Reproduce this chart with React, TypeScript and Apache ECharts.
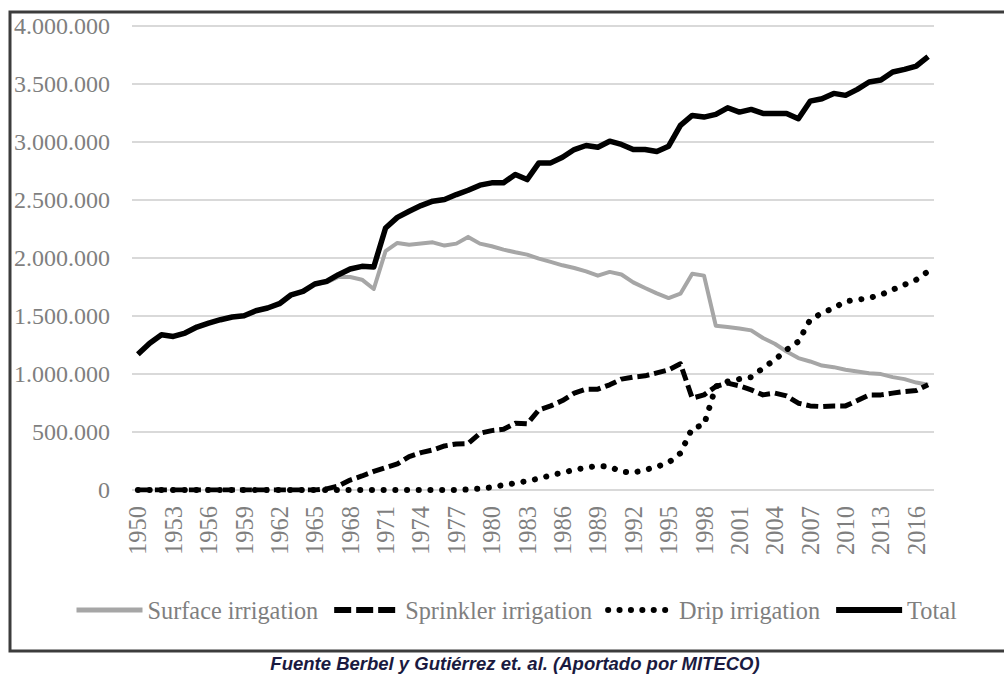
import React, { useEffect, useRef } from "react";
import * as echarts from "echarts";

const years = [
  "1950","1951","1952","1953","1954","1955","1956","1957","1958","1959",
  "1960","1961","1962","1963","1964","1965","1966","1967","1968","1969",
  "1970","1971","1972","1973","1974","1975","1976","1977","1978","1979",
  "1980","1981","1982","1983","1984","1985","1986","1987","1988","1989",
  "1990","1991","1992","1993","1994","1995","1996","1997","1998","1999",
  "2000","2001","2002","2003","2004","2005","2006","2007","2008","2009",
  "2010","2011","2012","2013","2014","2015","2016","2017",
];

const surface = [
  1170000, 1266000, 1338000, 1324000, 1353000, 1405000, 1439000, 1468000, 1491000, 1502000,
  1545000, 1569000, 1606000, 1683000, 1712000, 1776000, 1790000, 1836000, 1836000, 1813000,
  1733000, 2060000, 2130000, 2115000, 2124000, 2135000, 2107000, 2124000, 2182000, 2124000,
  2101000, 2072000, 2049000, 2029000, 1994000, 1966000, 1937000, 1914000, 1885000, 1848000,
  1880000, 1858000, 1790000, 1741000, 1695000, 1655000, 1692000, 1865000, 1848000, 1416000,
  1405000, 1393000, 1376000, 1310000, 1261000, 1194000, 1137000, 1108000, 1073000, 1059000,
  1036000, 1021000, 1007000, 999000, 973000, 956000, 926000, 907000,
];

const sprinkler = [
  0, 0, 0, 0, 0, 0, 0, 0, 0, 0,
  0, 0, 0, 0, 0, 0, 10000, 35000, 86000, 121000,
  160000, 193000, 225000, 288000, 322000, 345000, 380000, 397000, 400000, 489000,
  512000, 524000, 576000, 570000, 691000, 725000, 771000, 835000, 869000, 869000,
  907000, 956000, 973000, 984000, 1010000, 1036000, 1088000, 792000, 820000, 892000,
  921000, 898000, 863000, 820000, 835000, 811000, 748000, 725000, 719000, 725000,
  725000, 771000, 820000, 820000, 835000, 849000, 857000, 907000,
];

const drip = [
  0, 0, 0, 0, 0, 0, 0, 0, 0, 0,
  0, 0, 0, 0, 0, 0, 0, 0, 0, 0,
  0, 0, 0, 0, 0, 0, 0, 0, 5000, 12000,
  23000, 43000, 58000, 78000, 98000, 127000, 150000, 173000, 193000, 207000,
  201000, 158000, 150000, 173000, 201000, 236000, 317000, 533000, 561000, 892000,
  935000, 956000, 973000, 1051000, 1122000, 1209000, 1280000, 1468000, 1525000, 1569000,
  1626000, 1640000, 1655000, 1683000, 1727000, 1770000, 1813000, 1885000,
];

const total = [
  1170000, 1266000, 1338000, 1324000, 1353000, 1405000, 1439000, 1468000, 1491000, 1502000,
  1545000, 1569000, 1606000, 1683000, 1712000, 1776000, 1799000, 1856000, 1905000, 1928000,
  1923000, 2259000, 2350000, 2403000, 2452000, 2490000, 2504000, 2547000, 2584000, 2628000,
  2648000, 2648000, 2720000, 2676000, 2820000, 2820000, 2869000, 2935000, 2970000, 2955000,
  3007000, 2979000, 2935000, 2935000, 2918000, 2964000, 3143000, 3229000, 3215000, 3238000,
  3295000, 3258000, 3281000, 3246000, 3246000, 3246000, 3200000, 3352000, 3373000, 3419000,
  3402000, 3454000, 3517000, 3534000, 3603000, 3626000, 3655000, 3736000,
];

const seriesNames = ["Surface irrigation", "Sprinkler irrigation", "Drip irrigation", "Total"];
const caption = "Fuente Berbel y Gutiérrez et. al. (Aportado por MITECO)";

const SERIF = "'Liberation Serif', 'DejaVu Serif', serif";
const GREY_TEXT = "#7f7f7f";

function fmt(v: number): string {
  if (v === 0) return "0";
  return String(Math.round(v)).replace(/\B(?=(\d{3})+(?!\d))/g, ".");
}

export default function App() {
  const ref = useRef<HTMLDivElement>(null);
  useEffect(() => {
    if (!ref.current) return;
    const chart = echarts.init(ref.current, undefined, { renderer: "svg" });
    chart.setOption({
      animation: false,
      backgroundColor: "#ffffff",
      grid: { left: 132, right: 70, top: 26, bottom: 184, containLabel: false },
      xAxis: {
        type: "category",
        data: years,
        boundaryGap: true,
        axisLine: { show: false },
        axisTick: { show: false },
        axisLabel: {
          interval: 2,
          rotate: 90,
          margin: 16,
          color: GREY_TEXT,
          fontFamily: SERIF,
          fontSize: 24.5,
        },
        splitLine: { show: false },
      },
      yAxis: {
        type: "value",
        min: 0,
        max: 4000000,
        interval: 500000,
        axisLine: { show: false },
        axisTick: { show: false },
        axisLabel: {
          margin: 22,
          color: GREY_TEXT,
          fontFamily: SERIF,
          fontSize: 24,
          formatter: (v: number) => fmt(v),
        },
        splitLine: { show: true, lineStyle: { color: "#d9d9d9", width: 2 } },
      },
      legend: {
        left: 74,
        top: 598,
        padding: 0,
        itemWidth: 66,
        itemHeight: 14,
        itemGap: 13,
        itemStyle: { opacity: 0, borderWidth: 0 },
        textStyle: { color: GREY_TEXT, fontFamily: SERIF, fontSize: 24.3 },
        data: [
          { name: seriesNames[0], lineStyle: { width: 5, color: "#a6a6a6" } },
          { name: seriesNames[1], lineStyle: { width: 6, color: "#000000", type: [17, 5] } },
          { name: seriesNames[2], lineStyle: { width: 6, color: "#000000", type: [0.1, 11.3], cap: "round" } },
          { name: seriesNames[3], lineStyle: { width: 6, color: "#000000" } },
        ],
      },
      series: [
        {
          name: seriesNames[0],
          type: "line",
          data: surface,
          symbol: "none",
          lineStyle: { color: "#a6a6a6", width: 4, join: "round" },
          itemStyle: { color: "#a6a6a6" },
          z: 2,
        },
        {
          name: seriesNames[1],
          type: "line",
          data: sprinkler,
          symbol: "none",
          lineStyle: { color: "#000000", width: 5, type: [12, 5], join: "round" },
          itemStyle: { color: "#000000" },
          z: 3,
        },
        {
          name: seriesNames[2],
          type: "line",
          data: drip,
          symbol: "none",
          lineStyle: { color: "#000000", width: 6, type: [0.1, 11.6], cap: "round", join: "round" },
          itemStyle: { color: "#000000" },
          z: 4,
        },
        {
          name: seriesNames[3],
          type: "line",
          data: total,
          symbol: "none",
          lineStyle: { color: "#000000", width: 5.5, join: "round" },
          itemStyle: { color: "#000000" },
          z: 5,
        },
      ],
      graphic: [
        {
          type: "rect",
          z: -10,
          silent: true,
          shape: { x: 10, y: 12, width: 1010, height: 639 },
          style: { fill: "none", stroke: "#3c3c3c", lineWidth: 3 },
        },
        {
          type: "text",
          x: 515,
          y: 663,
          silent: true,
          style: {
            text: caption,
            fill: "#1a1a40",
            fontFamily: "'Liberation Sans', Arial, sans-serif",
            fontWeight: "bold",
            fontStyle: "italic",
            fontSize: 18.5,
            align: "center",
            verticalAlign: "middle",
          },
        },
      ],
    });
    return () => chart.dispose();
  }, []);
  return (
    <div
      ref={ref}
      style={{ position: "absolute", left: 0, top: 0, width: 1004, height: 674, background: "#fff" }}
    />
  );
}
